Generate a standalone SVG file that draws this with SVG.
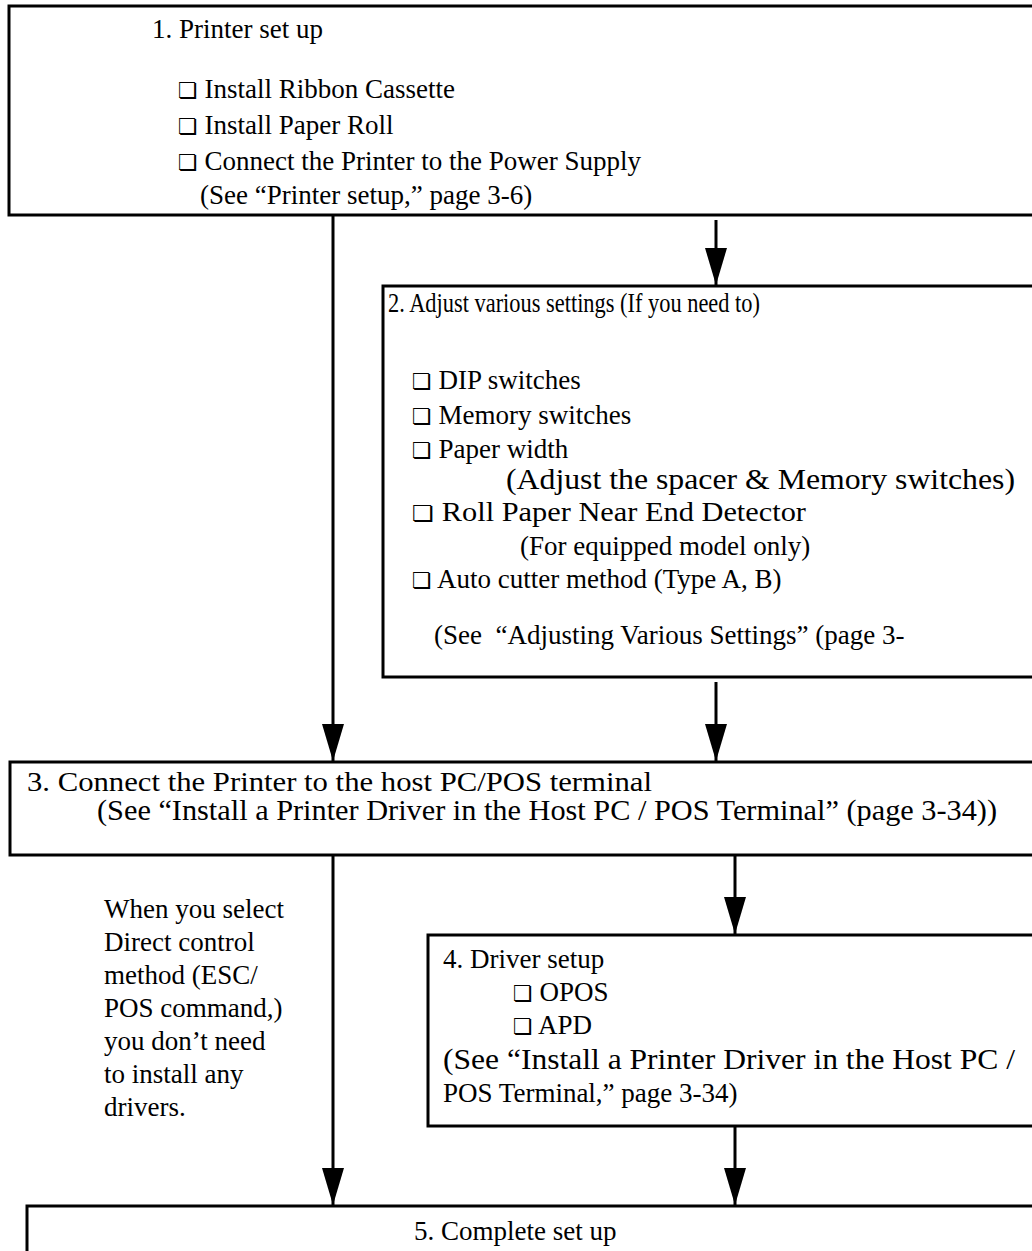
<svg xmlns="http://www.w3.org/2000/svg" width="1032" height="1251" viewBox="0 0 1032 1251">
<style>
.box{fill:#fff;stroke:#000;stroke-width:3}
.t{font-family:"Liberation Serif","Times New Roman",serif;font-size:27px;fill:#000}
.w{font-size:29px}
.cb{font-family:"DejaVu Sans",sans-serif;font-size:22px}
.ln{stroke:#000;stroke-width:3;fill:none}
</style>
<defs>
<marker id="ah" markerWidth="37" markerHeight="22" refX="37" refY="11" orient="auto" markerUnits="userSpaceOnUse" viewBox="0 0 37 22">
<path d="M0,0 L37,11 L0,22 Z" fill="#000"/>
</marker>
</defs>
<rect width="1032" height="1251" fill="#fff"/>
<g id="node1">
<rect class="box" x="9" y="6" width="1040" height="209"/>
<text class="t" x="152" y="38">1. Printer set up</text>
<text class="t" x="178" y="98"><tspan class="cb">❏</tspan> Install Ribbon Cassette</text>
<text class="t" x="178" y="134"><tspan class="cb">❏</tspan> Install Paper Roll</text>
<text class="t" x="178" y="170"><tspan class="cb">❏</tspan> Connect the Printer to the Power Supply</text>
<text class="t" x="200" y="204">(See “Printer setup,” page 3-6)</text>
</g>
<g id="node2">
<rect class="box" x="383" y="286" width="660" height="391"/>
<text class="t" x="388" y="312" textLength="372" lengthAdjust="spacingAndGlyphs">2. Adjust various settings (If you need to)</text>
<text class="t" x="412" y="389"><tspan class="cb">❏</tspan> DIP switches</text>
<text class="t" x="412" y="424"><tspan class="cb">❏</tspan> Memory switches</text>
<text class="t" x="412" y="458"><tspan class="cb">❏</tspan> Paper width</text>
<text class="t w" x="506" y="489" textLength="509" lengthAdjust="spacingAndGlyphs">(Adjust the spacer &amp; Memory switches)</text>
<text class="t" x="412" y="521" textLength="394" lengthAdjust="spacingAndGlyphs"><tspan class="cb">❏</tspan> Roll Paper Near End Detector</text>
<text class="t" x="520" y="555">(For equipped model only)</text>
<text class="t" x="412" y="588"><tspan class="cb">❏</tspan> Auto cutter method (Type A, B)</text>
<text class="t" x="434" y="644" xml:space="preserve">(See  “Adjusting Various Settings” (page 3-</text>
</g>
<g id="node3">
<rect class="box" x="10" y="762" width="1040" height="93"/>
<text class="t" x="27" y="791" textLength="625" lengthAdjust="spacingAndGlyphs">3. Connect the Printer to the host PC/POS terminal</text>
<text class="t w" x="97" y="820" textLength="900" lengthAdjust="spacingAndGlyphs">(See “Install a Printer Driver in the Host PC / POS Terminal” (page 3-34))</text>
</g>
<g id="note">
<text class="t" x="104" y="918">When you select</text>
<text class="t" x="104" y="951">Direct control</text>
<text class="t" x="104" y="984">method (ESC/</text>
<text class="t" x="104" y="1017">POS command,)</text>
<text class="t" x="104" y="1050">you don’t need</text>
<text class="t" x="104" y="1083">to install any</text>
<text class="t" x="104" y="1116">drivers.</text>
</g>
<g id="node4">
<rect class="box" x="428" y="935" width="620" height="191"/>
<text class="t" x="443" y="968">4. Driver setup</text>
<text class="t" x="513" y="1001"><tspan class="cb">❏</tspan> OPOS</text>
<text class="t" x="513" y="1034"><tspan class="cb">❏</tspan> APD</text>
<text class="t w" x="443" y="1069" textLength="572" lengthAdjust="spacingAndGlyphs">(See “Install a Printer Driver in the Host PC /</text>
<text class="t" x="443" y="1102">POS Terminal,” page 3-34)</text>
</g>
<g id="node5">
<rect class="box" x="27" y="1206" width="1040" height="80"/>
<text class="t" x="414" y="1240">5. Complete set up</text>
</g>
<g id="connectors">
<line class="ln" x1="333" y1="215" x2="333" y2="761" marker-end="url(#ah)"/>
<line class="ln" x1="716" y1="220" x2="716" y2="285" marker-end="url(#ah)"/>
<line class="ln" x1="716" y1="682" x2="716" y2="761" marker-end="url(#ah)"/>
<line class="ln" x1="333" y1="855" x2="333" y2="1205" marker-end="url(#ah)"/>
<line class="ln" x1="735" y1="855" x2="735" y2="934" marker-end="url(#ah)"/>
<line class="ln" x1="735" y1="1126" x2="735" y2="1205" marker-end="url(#ah)"/>
</g>
</svg>
